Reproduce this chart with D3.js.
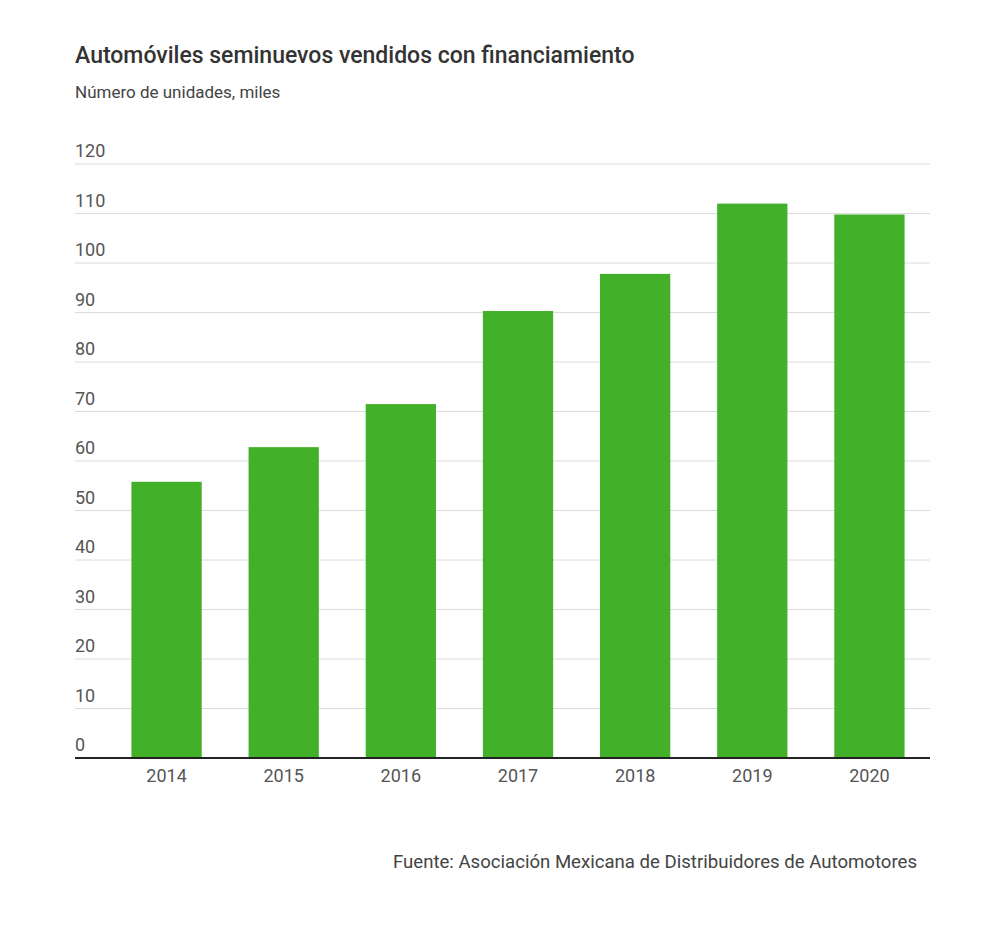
<!DOCTYPE html>
<html>
<head>
<meta charset="utf-8">
<script src="https://cdn.jsdelivr.net/npm/d3@7"></script>
<style>
  body { margin: 0; background: #fff; font-family: Roboto, "Noto Sans", sans-serif; }
</style>
</head>
<body>
<div id="chart-area"></div>
<script>
const years = ["2014", "2015", "2016", "2017", "2018", "2019", "2020"]
const units = [55.8, 62.8, 71.5, 90.3, 97.8, 112.0, 109.8]
const yTicks = [0, 10, 20, 30, 40, 50, 60, 70, 80, 90, 100, 110, 120]

const W = 1000, H = 927
const PLOT = { LEFT: 75, RIGHT: 930, TOP: 164, BOTTOM: 758 }

const svg = d3.select("#chart-area").append("svg")
  .attr("width", W)
  .attr("height", H)

svg.append("rect").attr("width", W).attr("height", H).attr("fill", "#fff")

const xScale = d3.scaleBand()
  .domain(years)
  .range([108, 928])
  .paddingInner(0.4)
  .paddingOuter(0.2)

const yScale = d3.scaleLinear()
  .domain([0, 120])
  .range([PLOT.BOTTOM, PLOT.TOP])

// gridlines + left labels
const grid = svg.append("g")
  .selectAll("g")
  .data(yTicks)
  .enter().append("g")
  .attr("transform", d => `translate(0, ${yScale(d)})`)

grid.filter(d => d !== 0).append("line")
  .attr("x1", PLOT.LEFT).attr("x2", PLOT.RIGHT)
  .attr("stroke", "#dcdcdc").attr("stroke-width", 1)

grid.append("text")
  .attr("x", PLOT.LEFT)
  .attr("y", -7)
  .attr("fill", "#555")
  .attr("font-size", 18)
  .text(d => d)

// bars
svg.append("g").selectAll("rect")
  .data(years)
  .enter().append("rect")
  .attr("x", d => xScale(d))
  .attr("width", xScale.bandwidth())
  .attr("y", (d, i) => yScale(units[i]))
  .attr("height", (d, i) => yScale(0) - yScale(units[i]))
  .attr("fill", "#43b02a")

// baseline
svg.append("line")
  .attr("x1", PLOT.LEFT).attr("x2", PLOT.RIGHT)
  .attr("y1", yScale(0)).attr("y2", yScale(0))
  .attr("stroke", "#222").attr("stroke-width", 2)

// x axis labels
const xAxis = svg.append("g")
  .attr("transform", `translate(0, ${PLOT.BOTTOM})`)
  .call(d3.axisBottom(xScale).tickSize(0).tickPadding(11))
xAxis.select(".domain").remove()
xAxis.selectAll("text")
  .attr("font-family", "Roboto, sans-serif")
  .attr("font-size", 18)
  .attr("fill", "#555")

// titles
svg.append("text")
  .attr("x", 75).attr("y", 63)
  .attr("font-size", 23)
  .attr("font-weight", 500)
  .attr("fill", "#333")
  .text("Automóviles seminuevos vendidos con financiamiento")

svg.append("text")
  .attr("x", 75).attr("y", 98)
  .attr("font-size", 17)
  .attr("fill", "#444")
  .text("Número de unidades, miles")

svg.append("text")
  .attr("x", 917).attr("y", 868)
  .attr("text-anchor", "end")
  .attr("font-size", 18.6)
  .attr("fill", "#444")
  .text("Fuente: Asociación Mexicana de Distribuidores de Automotores")
</script>
</body>
</html>
